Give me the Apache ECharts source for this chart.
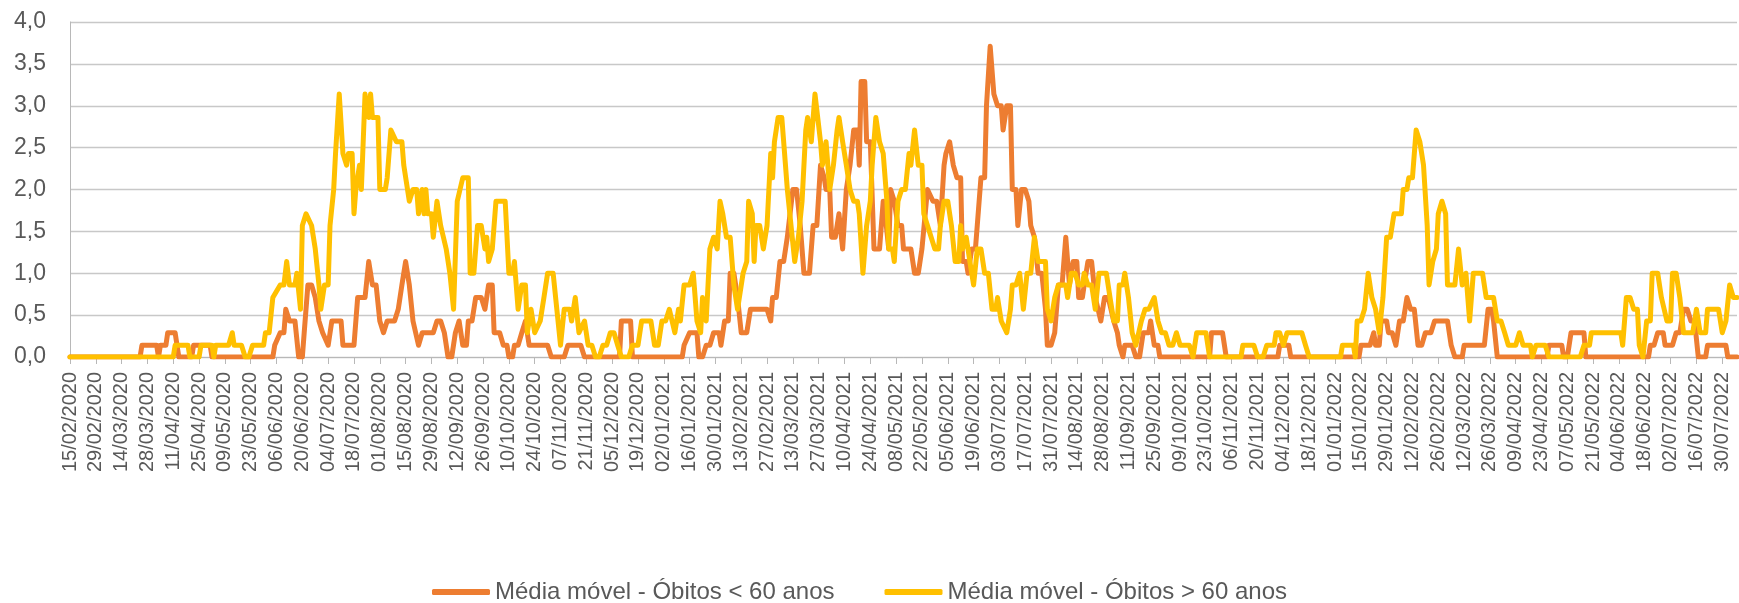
<!DOCTYPE html>
<html>
<head>
<meta charset="utf-8">
<script src="https://cdn.jsdelivr.net/npm/echarts@6/dist/echarts.min.js"></script>
<style>
  html, body { margin: 0; padding: 0; background: #fff; }
  #chart { width: 1739px; height: 603px; }
</style>
</head>
<body>
<div id="chart"></div>
<script>
// x = days since 15/02/2020, labels every 14 days
const tickLabels = [
  "15/02/2020", "29/02/2020", "14/03/2020", "28/03/2020", "11/04/2020", "25/04/2020", "09/05/2020", "23/05/2020",
  "06/06/2020", "20/06/2020", "04/07/2020", "18/07/2020", "01/08/2020", "15/08/2020", "29/08/2020", "12/09/2020",
  "26/09/2020", "10/10/2020", "24/10/2020", "07/11/2020", "21/11/2020", "05/12/2020", "19/12/2020", "02/01/2021",
  "16/01/2021", "30/01/2021", "13/02/2021", "27/02/2021", "13/03/2021", "27/03/2021", "10/04/2021", "24/04/2021",
  "08/05/2021", "22/05/2021", "05/06/2021", "19/06/2021", "03/07/2021", "17/07/2021", "31/07/2021", "14/08/2021",
  "28/08/2021", "11/09/2021", "25/09/2021", "09/10/2021", "23/10/2021", "06/11/2021", "20/11/2021", "04/12/2021",
  "18/12/2021", "01/01/2022", "15/01/2022", "29/01/2022", "12/02/2022", "26/02/2022", "12/03/2022", "26/03/2022",
  "09/04/2022", "23/04/2022", "07/05/2022", "21/05/2022", "04/06/2022", "18/06/2022", "02/07/2022", "16/07/2022",
  "30/07/2022"
];
const tickDays = tickLabels.map((_, i) => i * 14);
const lastDay = 904;

const yTicks = [0, 0.5, 1, 1.5, 2, 2.5, 3, 3.5, 4];

// Média móvel - Óbitos < 60 anos  [day, value]
const under60 = [
  [0,0],[38,0],[39,0.14],[47,0.14],[48,0],[49,0.14],[52,0.14],[53,0.29],[57,0.29],[59,0],[66,0],[67,0.14],[76,0.14],[77,0],
  [110,0],[111,0.14],[112,0.14],[114,0.29],[116,0.29],[117,0.57],[119,0.43],[122,0.43],[124,0],[126,0],[127,0.29],[128,0.29],
  [129,0.86],[131,0.86],[133,0.71],[135,0.43],[137,0.29],[138,0.29],[140,0.14],[142,0.43],[147,0.43],[148,0.14],[151,0.14],
  [154,0.14],[156,0.71],[158,0.71],[160,0.71],[162,1.14],[164,0.86],[166,0.86],[168,0.43],[170,0.29],[172,0.43],[176,0.43],
  [178,0.57],[180,0.86],[182,1.14],[184,0.86],[186,0.43],[189,0.14],[191,0.29],[197,0.29],[199,0.43],[201,0.43],[203,0.29],
  [205,0],[207,0],[209,0.29],[211,0.43],[213,0.14],[215,0.14],[216,0.43],[218,0.43],[220,0.71],[223,0.71],[225,0.57],
  [226,0.57],[227,0.86],[229,0.86],[230,0.29],[233,0.29],[235,0.14],[237,0.14],[238,0],[240,0],[241,0.14],[243,0.14],
  [245,0.29],[247,0.43],[249,0.14],[259,0.14],[261,0],[268,0],[270,0.14],[277,0.14],[279,0],[298,0],[299,0.43],[304,0.43],
  [305,0],[332,0],[333,0.14],[334,0.14],[336,0.29],[340,0.29],[341,0],[343,0],[345,0.14],[347,0.14],[349,0.29],[352,0.29],
  [353,0.14],[355,0.43],[357,0.43],[358,1],[360,1],[362,0.71],[364,0.29],[367,0.29],[369,0.57],[378,0.57],[380,0.43],
  [381,0.71],[383,0.71],[385,1.14],[387,1.14],[389,1.43],[390,1.43],[392,2],[394,2],[396,1.57],[398,1],[401,1],[403,1.57],
  [405,1.57],[407,2.29],[409,2.14],[410,2],[412,2],[413,1.43],[415,1.43],[417,1.71],[418,1.71],[419,1.29],[421,2],
  [423,2.29],[425,2.71],[427,2.71],[428,2.29],[429,3.29],[431,3.29],[432,2.57],[434,2.57],[436,1.29],[439,1.29],[441,1.86],
  [442,1.71],[444,1.29],[445,2],[447,1.86],[449,1.57],[451,1.57],[452,1.29],[456,1.29],[458,1],[460,1],[462,1.29],[465,2],
  [466,2],[468,1.86],[470,1.86],[472,1.57],[474,2.29],[475,2.43],[477,2.57],[479,2.29],[481,2.14],[483,2.14],[484,1.14],
  [486,1.14],[487,1],[489,1.29],[491,1.29],[492,1.57],[493,1.57],[494,2.14],[496,2.14],[497,3],[499,3.71],[500,3.71],
  [501,3.14],[502,3.14],[503,3],[505,3],[506,2.71],[508,3],[510,3],[511,2],[513,2],[514,1.57],[516,2],[518,2],[520,1.86],
  [521,1.57],[523,1.43],[525,1],[527,1],[529,0.57],[530,0.14],[532,0.14],[534,0.29],[536,0.86],[538,0.86],[540,1.43],
  [541,1.43],[542,0.86],[544,1.14],[546,1.14],[547,0.71],[549,0.71],[550,0.86],[552,1.14],[554,1.14],[556,0.71],[557,0.71],
  [559,0.43],[561,0.71],[563,0.71],[566,0.43],[568,0.29],[569,0.14],[571,0],[572,0.14],[576,0.14],[578,0],[580,0],
  [582,0.29],[585,0.29],[586,0.43],[588,0.14],[590,0.14],[591,0],[618,0],[619,0.29],[625,0.29],[627,0],[655,0],[656,0.14],
  [661,0.14],[662,0],[699,0],[700,0.14],[705,0.14],[707,0.29],[708,0.14],[710,0.14],[711,0.43],[714,0.43],[715,0.29],
  [717,0.29],[719,0.14],[721,0.43],[723,0.43],[725,0.71],[727,0.57],[729,0.57],[731,0.14],[733,0.14],[735,0.29],[738,0.29],
  [740,0.43],[747,0.43],[749,0.14],[751,0],[755,0],[756,0.14],[767,0.14],[769,0.57],[771,0.57],[772,0.43],[774,0],
  [801,0],[802,0.14],[809,0.14],[810,0],[812,0],[814,0.29],[821,0.29],[822,0],[856,0],[857,0.14],[859,0.14],[861,0.29],
  [864,0.29],[865,0.14],[869,0.14],[871,0.29],[873,0.29],[875,0.57],[877,0.57],[879,0.43],[881,0.43],[883,0],[887,0],
  [888,0.14],[898,0.14],[899,0],[904,0]
];

// Média móvel - Óbitos > 60 anos  [day, value]
const over60 = [
  [0,0],[56,0],[57,0.14],[64,0.14],[65,0],[70,0],[71,0.14],[77,0.14],[78,0],[79,0.14],[86,0.14],[88,0.29],[89,0.14],
  [93,0.14],[95,0],[97,0],[99,0.14],[105,0.14],[106,0.29],[108,0.29],[110,0.71],[114,0.86],[116,0.86],[117.5,1.14],
  [119,0.86],[122,0.86],[123,1],[125,0.57],[126,1.57],[128,1.71],[131,1.57],[133,1.29],[135,0.86],[136,0.57],[138,0.86],
  [140,0.86],[141,1.57],[143,2],[144,2.43],[146,3.14],[148,2.43],[150,2.29],[151,2.43],[153,2.43],[154,1.71],[155,2],
  [156,2],[157,2.29],[158,2],[159,2],[160,3.14],[161,3.14],[162,2.86],[163,3.14],[164,2.86],[167,2.86],[168,2],[171,2],
  [172,2.14],[173,2.14],[174,2.71],[175,2.71],[177,2.57],[180,2.57],[181,2.29],[182,2.29],[184,1.86],[185,1.86],[186,2],
  [188,2],[189,1.71],[191,2],[192,1.71],[193,2],[194,1.71],[196,1.71],[197,1.43],[198,1.43],[199,1.86],[201,1.57],
  [202,1.57],[204,1.29],[206,1],[208,0.57],[210,1.86],[211,1.86],[213,2.14],[216,2.14],[217,1],[219,1],[221,1.57],
  [223,1.57],[225,1.29],[226,1.43],[227,1.14],[229,1.29],[231,1.86],[236,1.86],[238,1],[240,1],[241,1.14],[243,0.57],
  [245,0.86],[247,0.86],[248,0.29],[250,0.57],[252,0.29],[255,0.43],[257,0.71],[259,1],[262,1],[264,0.57],[266,0.14],
  [268,0.57],[271,0.57],[272,0.43],[274,0.71],[276,0.29],[277,0.29],[279,0.43],[281,0.14],[283,0.14],[285,0],[287,0],
  [289,0.14],[291,0.14],[293,0.29],[295,0.29],[297,0.14],[299,0],[303,0],[305,0.14],[308,0.14],[310,0.43],[315,0.43],
  [317,0.14],[319,0.14],[321,0.43],[323,0.43],[325,0.57],[326,0.57],[328,0.29],[330,0.57],[331,0.43],[333,0.86],
  [336,0.86],[338,1],[340,0.43],[342,0.29],[343,0.71],[345,0.43],[347,1.29],[349,1.43],[351,1.29],[352.5,1.86],
  [354,1.71],[356,1.43],[358,1.43],[360,0.86],[362,0.57],[363,0.57],[365,1],[367,1.14],[368,1.86],[370,1.71],[371,1.14],
  [372,1.57],[374,1.57],[376,1.29],[378,1.57],[380,2.43],[381,2.14],[382,2.57],[384,2.86],[386,2.86],[388,2.29],[389,2],
  [391,1.57],[393,1.14],[395,1.43],[397,1.86],[399,2.71],[400,2.86],[402,2.57],[404,3.14],[405,3.14],[407,2.57],
  [408,2.29],[410,2.57],[412,2],[414,2.29],[416,2.71],[417,2.86],[419,2.57],[421,2.29],[423,2],[425,1.86],[427,1.86],
  [428,1.71],[430,1],[432,1.57],[434,1.86],[435,2.29],[437,2.86],[439,2.57],[441,2.43],[443,1.86],[444,1.29],[446,1.29],
  [447,1.14],[449,1.86],[451,2],[453,2],[455,2.43],[456,2.29],[458,2.71],[460,2.29],[462,2.29],[463,1.71],[465,1.57],
  [467,1.43],[469,1.29],[471,1.29],[472,1.57],[474,1.86],[476,1.86],[478,1.57],[480,1.14],[482,1.14],[483,1.57],
  [484,1.29],[486,1.43],[488,1.14],[490,0.86],[492,1.29],[494,1.29],[496,1],[498,1],[500,0.57],[502,0.57],[503,0.71],
  [505,0.43],[506,0.43],[508,0.29],[510,0.57],[511,0.86],[513,0.86],[515,1],[517,0.57],[519,1],[521,1],[523,1.43],
  [525,1.14],[529,1.14],[530,0.57],[532,0.43],[534,0.71],[536,0.86],[540,0.86],[541,0.71],[543,1],[545,1],[547,0.86],
  [549,0.86],[550,1],[552,0.86],[554,0.86],[556,0.57],[558,1],[562,1],[564,0.71],[566,0.43],[568,0.43],[569,0.86],
  [571,0.86],[572,1],[574,0.71],[576,0.29],[578,0.14],[579,0.14],[581,0.43],[583,0.57],[585,0.57],[588,0.71],[590,0.43],
  [592,0.29],[594,0.29],[596,0.14],[598,0.14],[600,0.29],[602,0.14],[607,0.14],[609,0],[610,0],[611,0.29],[616,0.29],
  [618,0],[635,0],[636,0.14],[642,0.14],[644,0],[647,0],[649,0.14],[653,0.14],[654,0.29],[656,0.29],[658,0.14],
  [660,0.29],[668,0.29],[670,0.14],[672,0],[689,0],[690,0.14],[696,0.14],[697,0],[698,0.43],[700,0.43],[702,0.57],
  [704,1],[706,0.71],[708,0.57],[710,0.29],[712,0.71],[714,1.43],[716,1.43],[718,1.71],[722,1.71],[723,2],[725,2],
  [726,2.14],[728,2.14],[730,2.71],[732,2.57],[734,2.29],[735,2.29],[736,1.57],[737,0.86],[739,1.14],[741,1.29],
  [742,1.71],[744,1.86],[746,1.71],[747,0.86],[751,0.86],[753,1.29],[755,0.86],[756,0.86],[757,1],[759,0.43],[761,1],
  [766,1],[768,0.71],[772,0.71],[774,0.43],[776,0.43],[778,0.29],[780,0.14],[784,0.14],[786,0.29],[788,0.14],[792,0.14],
  [793,0],[795,0.14],[800,0.14],[802,0],[819,0],[821,0.14],[824,0.14],[825,0.29],[841,0.29],[842,0.14],[844,0.71],
  [846,0.71],[848,0.57],[850,0.57],[851,0.14],[853,0],[855,0.43],[857,0.43],[858,1],[861,1],[863,0.71],[866,0.43],
  [868,0.43],[869,1],[871,1],[873,0.71],[875,0.29],[880,0.29],[882,0.57],[884,0.29],[887,0.29],[888,0.57],[894,0.57],
  [896,0.29],[898,0.43],[900,0.86],[901,0.86],[902,0.71],[904,0.71]
];

const font = "Liberation Sans";
const textColor = "#595959";
const gridColor = "#c8c8c8";

const chart = echarts.init(document.getElementById("chart"));

const option = {
  animation: false,
  grid: { left: 70, right: 2, top: 22, bottom: 246 },
  legend: {
    left: 427,
    top: 575,
    itemWidth: 58,
    itemHeight: 6,
    itemGap: 50,
    icon: "roundRect",
    textStyle: { fontFamily: font, fontSize: 24, color: textColor },
    data: ["Média móvel - Óbitos < 60 anos", "Média móvel - Óbitos > 60 anos"]
  },
  xAxis: {
    type: "value",
    min: 0,
    max: lastDay,
    axisLine: { lineStyle: { color: "#b8b8b8", width: 1 } },
    axisTick: { customValues: tickDays, length: 7, lineStyle: { color: "#b8b8b8" } },
    axisLabel: {
      customValues: tickDays,
      rotate: 90,
      margin: 15,
      fontFamily: font,
      fontSize: 20,
      color: textColor,
      formatter: (v) => tickLabels[Math.round(v / 14)] || ""
    },
    splitLine: { show: false }
  },
  yAxis: {
    type: "value",
    min: yTicks[0],
    max: yTicks[yTicks.length - 1],
    interval: 0.5,
    axisLine: { show: true, lineStyle: { color: "#b8b8b8", width: 1 } },
    axisTick: { show: false },
    axisLabel: {
      margin: 24,
      fontFamily: font,
      fontSize: 23,
      color: textColor,
      formatter: (v) => v.toFixed(1).replace(".", ",")
    },
    splitLine: { lineStyle: { color: gridColor, width: 1.3 } }
  },
  series: [
    {
      name: "Média móvel - Óbitos < 60 anos",
      type: "line",
      data: under60,
      symbol: "none",
      itemStyle: { color: "#ed7d31" },
      lineStyle: { color: "#ed7d31", width: 5, join: "round", cap: "round" }
    },
    {
      name: "Média móvel - Óbitos > 60 anos",
      type: "line",
      data: over60,
      symbol: "none",
      itemStyle: { color: "#ffc000" },
      lineStyle: { color: "#ffc000", width: 5, join: "round", cap: "round" }
    }
  ]
};

chart.setOption(option);
window.addEventListener("resize", () => chart.resize());
</script>
</body>
</html>
